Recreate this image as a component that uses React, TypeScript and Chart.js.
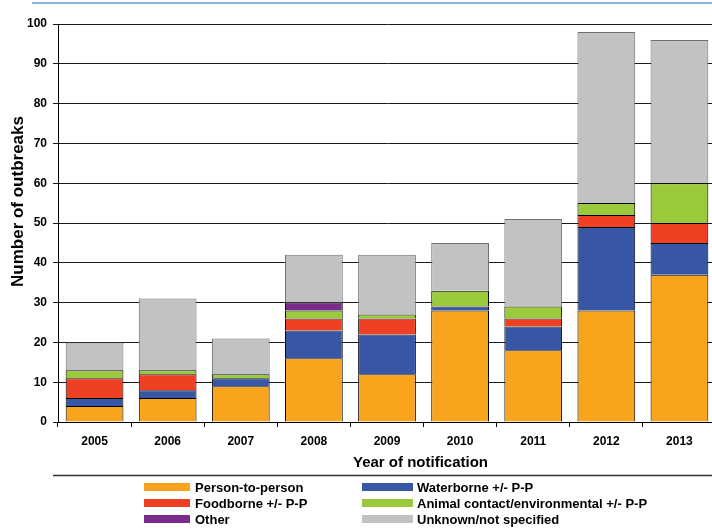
import React, { useEffect, useRef } from "react";
import { Chart, registerables } from "chart.js";

Chart.register(...registerables);

const years = ["2005", "2006", "2007", "2008", "2009", "2010", "2011", "2012", "2013"];
const personToPerson = [4, 6, 9, 16, 12, 28, 18, 28, 37];
const waterborne = [2, 2, 2, 7, 10, 1, 6, 21, 8];
const foodborne = [5, 4, 0, 3, 4, 0, 2, 3, 5];
const animalContact = [2, 1, 1, 2, 1, 4, 3, 3, 10];
const otherRoute = [0, 0, 0, 2, 0, 0, 0, 0, 0];
const unknownRoute = [7, 18, 9, 12, 15, 12, 22, 43, 36];

const seriesLabels = [
  "Person-to-person",
  "Waterborne +/- P-P",
  "Foodborne +/- P-P",
  "Animal contact/environmental +/- P-P",
  "Other",
  "Unknown/not specified",
];
const seriesColors = ["#F8A51D", "#3757A6", "#EF4023", "#9ACA3C", "#7A2B8C", "#C1C2C4"];
const seriesBorders = ["#000000", "#000000", "#000000", "#000000", "#000000", "#707070"];

const xTitle = "Year of notification";
const yTitle = "Number of outbreaks";

const FONT = "'Liberation Sans', Arial, sans-serif";

const decorPlugin = {
  id: "decor",
  afterDraw(chart: any) {
    const ctx = chart.ctx as CanvasRenderingContext2D;
    ctx.save();
    // top rule
    ctx.strokeStyle = "#8DB4E2";
    ctx.lineWidth = 2;
    ctx.beginPath();
    ctx.moveTo(32, 3);
    ctx.lineTo(chart.width, 3);
    ctx.stroke();
    // legend separator
    ctx.strokeStyle = "#333333";
    ctx.lineWidth = 1.5;
    ctx.beginPath();
    ctx.moveTo(53, 475.5);
    ctx.lineTo(chart.width, 475.5);
    ctx.stroke();
    // x title
    ctx.fillStyle = "#000";
    ctx.font = `bold 15px ${FONT}`;
    ctx.textAlign = "center";
    ctx.textBaseline = "middle";
    ctx.fillText(xTitle, 420.5, 463);
    // y title
    ctx.save();
    ctx.translate(18, 201.5);
    ctx.rotate(-Math.PI / 2);
    ctx.font = `bold 17px ${FONT}`;
    ctx.fillText(yTitle, 0, 0);
    ctx.restore();
    // legend
    const colSwatchX = [144, 362];
    const colSwatchW = [46, 51];
    const colTextX = [195, 417];
    const rowY = [487, 503, 519];
    ctx.font = `bold 13px ${FONT}`;
    ctx.textAlign = "left";
    chart.data.datasets.forEach((ds: any, i: number) => {
      const col = i % 2;
      const row = Math.floor(i / 2);
      const y = rowY[row];
      ctx.fillStyle = ds.backgroundColor;
      ctx.fillRect(colSwatchX[col], y - 4, colSwatchW[col], 8);
      ctx.fillStyle = "#000";
      ctx.fillText(ds.label, colTextX[col], y + 1);
    });
    ctx.restore();
  },
};

export default function App() {
  const canvasRef = useRef<HTMLCanvasElement | null>(null);

  useEffect(() => {
    document.body.style.margin = "0";
    document.body.style.overflow = "hidden";
    const canvas = canvasRef.current;
    if (!canvas) return;
    const seriesData = [personToPerson, waterborne, foodborne, animalContact, otherRoute, unknownRoute];
    const chart = new Chart(canvas, {
      type: "bar",
      data: {
        labels: years,
        datasets: seriesData.map((d, i) => ({
          label: seriesLabels[i],
          data: d,
          backgroundColor: seriesColors[i],
          borderColor: seriesBorders[i],
          borderWidth: 1,
          barPercentage: 0.79,
          categoryPercentage: 1,
        })),
      },
      options: {
        responsive: false,
        animation: false,
        devicePixelRatio: 1,
        layout: { padding: { top: 24, right: 0, left: 0, bottom: 0 } },
        plugins: {
          legend: { display: false },
          tooltip: { enabled: false },
        },
        scales: {
          x: {
            stacked: true,
            grid: {
              offset: true,
              drawOnChartArea: false,
              drawTicks: true,
              tickLength: 5,
              color: "#000",
            },
            border: { color: "#000", width: 1 },
            ticks: {
              color: "#000",
              padding: 7,
              font: { family: FONT, size: 12, weight: "bold" },
            },
            afterFit: (s: any) => {
              s.height = 107;
            },
          },
          y: {
            stacked: true,
            min: 0,
            max: 100,
            ticks: {
              stepSize: 10,
              color: "#000",
              padding: 6,
              font: { family: FONT, size: 12, weight: "bold" },
            },
            grid: { color: "#1a1a1a", tickLength: 5, lineWidth: 1 },
            border: { color: "#000", width: 1 },
            afterFit: (s: any) => {
              s.width = 58;
            },
          },
        },
      },
      plugins: [decorPlugin],
    });
    return () => chart.destroy();
  }, []);

  return (
    <div style={{ position: "fixed", left: 0, top: 0, width: 712, height: 529, overflow: "hidden", background: "#fff" }}>
      <canvas ref={canvasRef} width={716} height={529} style={{ display: "block" }} />
    </div>
  );
}
